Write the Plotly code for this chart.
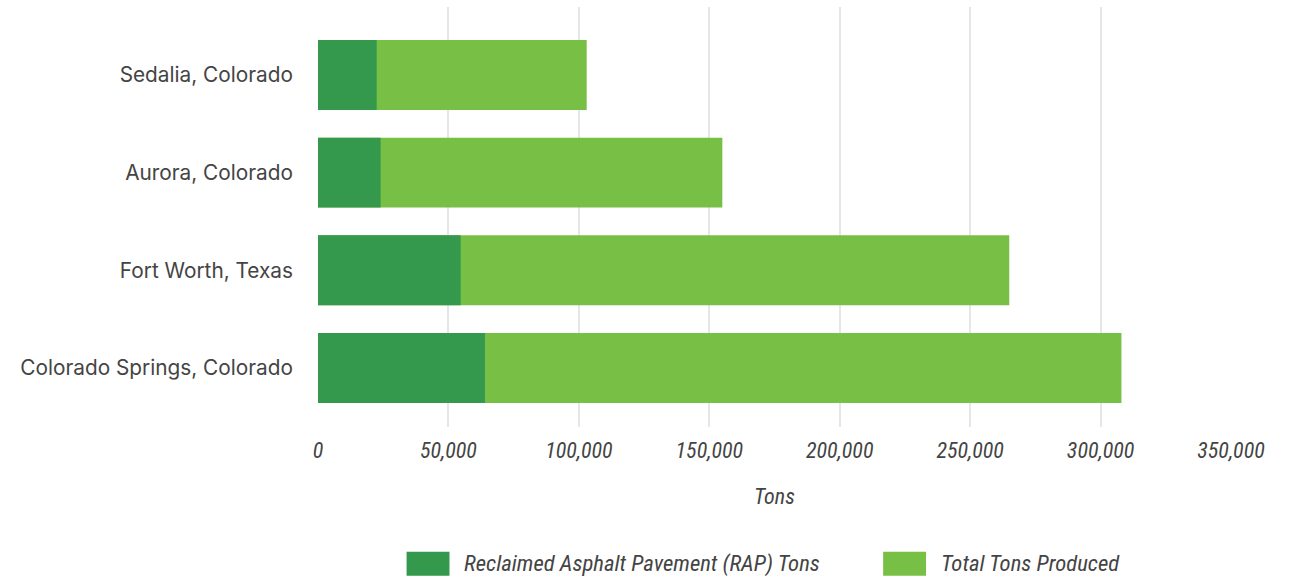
import plotly.graph_objects as go

# Plant locations, bottom to top as drawn on the category axis
plants = [
    "Colorado Springs, Colorado",
    "Fort Worth, Texas",
    "Aurora, Colorado",
    "Sedalia, Colorado",
]
rap_tons = [64000, 54700, 24000, 22500]
total_tons = [308000, 265000, 155000, 103000]

series_names = ["Reclaimed Asphalt Pavement (RAP) Tons", "Total Tons Produced"]
series_colors = ["#34994C", "#78BF45"]

x_tick_values = [0, 50000, 100000, 150000, 200000, 250000, 300000, 350000]
x_tick_text = ["0", "50,000", "100,000", "150,000", "200,000", "250,000", "300,000", "350,000"]

label_font = "Roboto Condensed, Liberation Sans Narrow, DejaVu Sans Condensed, Roboto"

fig = go.Figure()
# Total is drawn first, RAP portion overlaid from zero
fig.add_trace(go.Bar(
    y=plants, x=total_tons, orientation="h", name=series_names[1],
    marker=dict(color=series_colors[1], line=dict(width=0)), showlegend=False,
))
fig.add_trace(go.Bar(
    y=plants, x=rap_tons, orientation="h", name=series_names[0],
    marker=dict(color=series_colors[0], line=dict(width=0)), showlegend=False,
))

fig.update_layout(
    width=1293, height=580,
    margin=dict(l=318, r=62, t=7, b=153),
    paper_bgcolor="white", plot_bgcolor="white",
    barmode="overlay", bargap=0.284,
    font=dict(family="Roboto", color="#444444"),
)
fig.update_xaxes(
    range=[0, 350000], tickvals=x_tick_values, ticktext=x_tick_text,
    showgrid=True, gridcolor="#e6e6e6", gridwidth=2, zeroline=False,
    showline=False, ticks="", ticklabelstandoff=8,
    tickfont=dict(family=label_font, size=22, style="italic", color="#444444"),
    title=dict(text="Tons", standoff=26,
               font=dict(family=label_font, size=22, style="italic", color="#444444")),
)
fig.update_yaxes(
    range=[-0.604, 3.696], showgrid=False, zeroline=False, showline=False,
    ticks="", ticklabelstandoff=24,
    tickfont=dict(family="Inter, Roboto", size=20.8, color="#444444"),
)

# Legend: colour swatches with italic captions beneath the axis title
legend_items = [(series_names[0], series_colors[0], 0.097), (series_names[1], series_colors[1], 0.619)]
for name, color, x0 in legend_items:
    fig.add_shape(type="rect", xref="paper", yref="paper",
                  x0=x0, x1=x0 + 0.047, y0=-0.354, y1=-0.297,
                  fillcolor=color, line=dict(width=0))
    fig.add_annotation(xref="paper", yref="paper", x=x0 + 0.061, y=-0.3255,
                       text=name, showarrow=False, xanchor="left", yanchor="middle",
                       font=dict(family=label_font, size=22.7, style="italic", color="#444444"))

fig.write_html("out.html")
